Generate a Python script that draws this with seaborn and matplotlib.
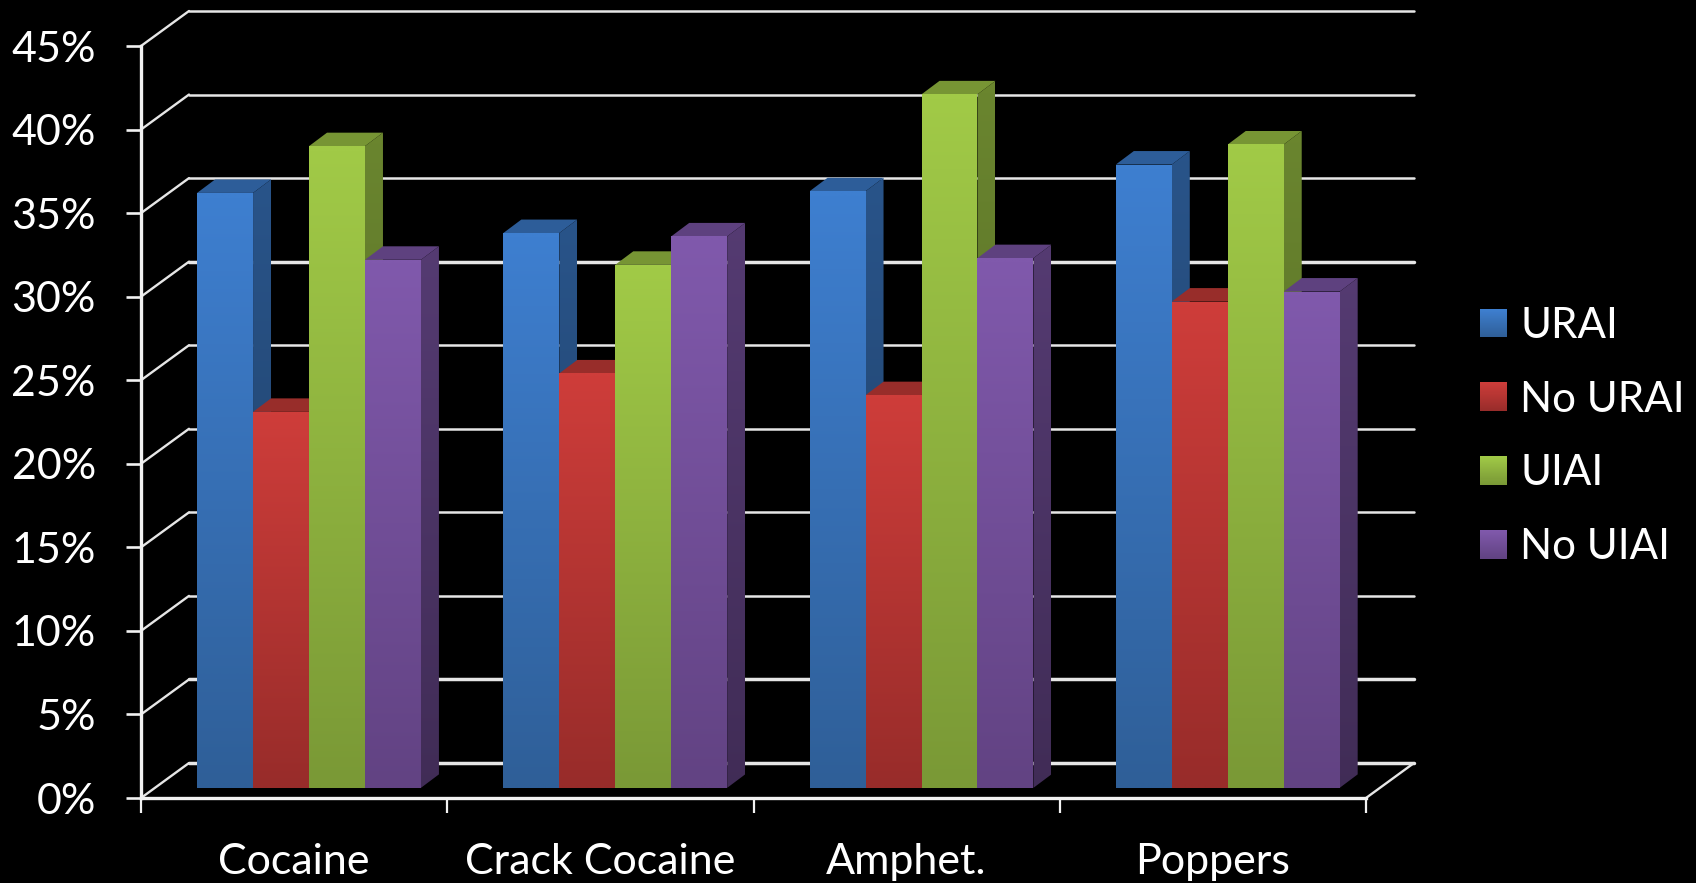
import numpy as np
import pandas as pd
import matplotlib
matplotlib.use("Agg")
import matplotlib.pyplot as plt
from matplotlib.colors import to_rgb
from matplotlib.legend_handler import HandlerBase
from matplotlib.patches import Polygon, Rectangle
import seaborn as sns

# Share of respondents per substance and sexual-risk group (percent)
substances = ["Cocaine", "Crack Cocaine", "Amphet.", "Poppers"]
groups = ["URAI", "No URAI", "UIAI", "No UIAI"]
urai = [35.6, 33.2, 35.7, 37.3]
no_urai = [22.5, 24.8, 23.5, 29.1]
uiai = [38.4, 31.3, 41.5, 38.5]
no_uiai = [31.6, 33.0, 31.7, 29.7]
y_ticks = [0, 5, 10, 15, 20, 25, 30, 35, 40, 45]

# (top, bottom) gradient colours for each group
face_colors = {
    "URAI": ("#3E7FD0", "#2F5F98"),
    "No URAI": ("#CE3D3A", "#982C2A"),
    "UIAI": ("#A1CA47", "#7A9936"),
    "No UIAI": ("#8059AC", "#624383"),
}

sns.set_style("dark")
plt.rcParams["font.family"] = ["Lato", "DejaVu Sans"]
FONT = 31
LEGEND_FONT = 30.3
WHITE = "#F2F2F2"

W, H = 1696, 883
fig = plt.figure(figsize=(W / 100, H / 100), dpi=100, facecolor="black")
ax = fig.add_axes([141 / W, (H - 798) / H, 1225 / W, 752 / H], facecolor="black")

df = pd.DataFrame({
    "substance": np.tile(substances, 4),
    "group": np.repeat(groups, 4),
    "value": urai + no_urai + uiai + no_uiai,
})
sns.barplot(data=df, x="substance", y="value", hue="group", hue_order=groups,
            order=substances, width=0.731, gap=0, dodge=True, legend=False,
            errorbar=None, ax=ax, linewidth=0)

XLIM, YLIM = (-0.5, 3.5), (0, 45)
ax.set_xlim(XLIM)
ax.set_ylim(YLIM)

# Oblique projection of the depth axis, in data units
DEPTH_X = 48 / (1225 / 4)
DEPTH_Y = 35 / (752 / 45)
NEAR_X, NEAR_Y = 0.31, 0.29
SPAN_X, SPAN_Y = 0.375, 0.385


def scale(color, k):
    return tuple(c * k for c in to_rgb(color))


def gradient_poly(points, top, bottom, zorder):
    """Fill a polygon with a vertical gradient, clipped to its outline."""
    pts = np.asarray(points)
    x0, x1 = pts[:, 0].min(), pts[:, 0].max()
    y0, y1 = pts[:, 1].min(), pts[:, 1].max()
    ramp = np.linspace(0, 1, 64)[:, None, None]
    img = (1 - ramp) * np.array(to_rgb(top)) + ramp * np.array(to_rgb(bottom))
    im = ax.imshow(img, extent=(x0, x1, y0, y1), origin="upper", aspect="auto",
                   interpolation="bilinear", zorder=zorder)
    im.set_clip_path(Polygon(pts, closed=True, transform=ax.transData))


# Back wall, floor and left wall gridlines
line_kw = dict(color="#E6E6E6", clip_on=False, zorder=1, solid_capstyle="round")
for v in y_ticks:
    lw = 2.5 if v in (0, 5, 30) else 1.8
    ax.plot([XLIM[0] + DEPTH_X, XLIM[1] + DEPTH_X], [v + DEPTH_Y] * 2, lw=lw, **line_kw)
    ax.plot([XLIM[0], XLIM[0] + DEPTH_X], [v, v + DEPTH_Y], lw=1.7, **line_kw)
ax.plot([XLIM[1], XLIM[1] + DEPTH_X], [0, DEPTH_Y], lw=1.7, **line_kw)

# Turn each flat seaborn bar into a box: move it inside the floor, then add its
# top and side faces and shade all three with gradients.
bars = sorted(ax.patches, key=lambda p: p.get_x())
for i, bar in enumerate(bars):
    top_col, bot_col = face_colors[groups[i % 4]]
    x0 = bar.get_x() + NEAR_X * DEPTH_X
    x1 = x0 + bar.get_width()
    y0 = NEAR_Y * DEPTH_Y
    y1 = y0 + bar.get_height()
    bar.set_x(x0)
    bar.set_y(y0)
    bar.set_facecolor(top_col)
    bar.set_zorder(2 + i)
    dx = SPAN_X * DEPTH_X
    dy = SPAN_Y * DEPTH_Y
    z = 2 + i + 0.5
    gradient_poly([(x0, y1), (x1, y1), (x1 + dx, y1 + dy), (x0 + dx, y1 + dy)],
                  scale(top_col, 0.74), scale(top_col, 0.74), z)
    gradient_poly([(x1, y0), (x1 + dx, y0 + dy), (x1 + dx, y1 + dy), (x1, y1)],
                  scale(top_col, 0.66), scale(bot_col, 0.66), z)
    gradient_poly([(x0, y0), (x1, y0), (x1, y1), (x0, y1)], top_col, bot_col, z + 0.1)

ax.set_xlim(XLIM)
ax.set_ylim(YLIM)

# Axes, ticks and labels
for side in ("top", "right"):
    ax.spines[side].set_visible(False)
for side in ("left", "bottom"):
    ax.spines[side].set_color(WHITE)
    ax.spines[side].set_linewidth(2.4)
    ax.spines[side].set_zorder(1.5)
ax.set_xlabel("")
ax.set_ylabel("")
ax.set_yticks(y_ticks, [f"{v}%" for v in y_ticks])
ax.set_xticks(range(4), substances)
ax.set_xticks([-0.5, 0.5, 1.5, 2.5, 3.5], minor=True)
ax.tick_params(axis="y", colors=WHITE, labelsize=FONT, length=11, width=1.9,
               pad=21.5, left=True)
ax.tick_params(axis="x", which="major", colors=WHITE, labelsize=FONT, length=0, pad=32.5)
ax.tick_params(axis="x", which="minor", color=WHITE, length=11, width=1.6, bottom=True)
for lab in ax.get_yticklabels():
    lab.set_color("white")
for lab in ax.get_xticklabels():
    lab.set_color("white")


class GradientSwatch(HandlerBase):
    """Legend key drawn as a stack of thin bands running from top to bottom colour."""

    def create_artists(self, legend, orig, xd, yd, width, height, fontsize, trans):
        top, bottom = orig.get_gid().split("|")
        bands = []
        n = 28
        for k in range(n):
            t = k / (n - 1)
            col = (1 - t) * np.array(to_rgb(top)) + t * np.array(to_rgb(bottom))
            y = -yd + height * (1 - (k + 1) / n)
            bands.append(Rectangle((-xd, y), width, height / n + 0.2, facecolor=col,
                                   edgecolor="none", transform=trans))
        return bands


handles = []
for g in groups:
    h = Rectangle((0, 0), 1, 1)
    h.set_gid("|".join(face_colors[g]))
    handles.append(h)

fs_px = LEGEND_FONT * 100 / 72
ax.legend(handles, groups, handler_map={Rectangle: GradientSwatch()},
          loc="center left", bbox_to_anchor=(1480 / W, (H - 436.5) / H),
          bbox_transform=fig.transFigure, frameon=False, fontsize=LEGEND_FONT,
          labelcolor="white", borderpad=0, borderaxespad=0,
          handlelength=27 / fs_px, handleheight=28 / fs_px,
          handletextpad=13 / fs_px, labelspacing=0.85)

fig.savefig("out.png", dpi=100, facecolor="black")
